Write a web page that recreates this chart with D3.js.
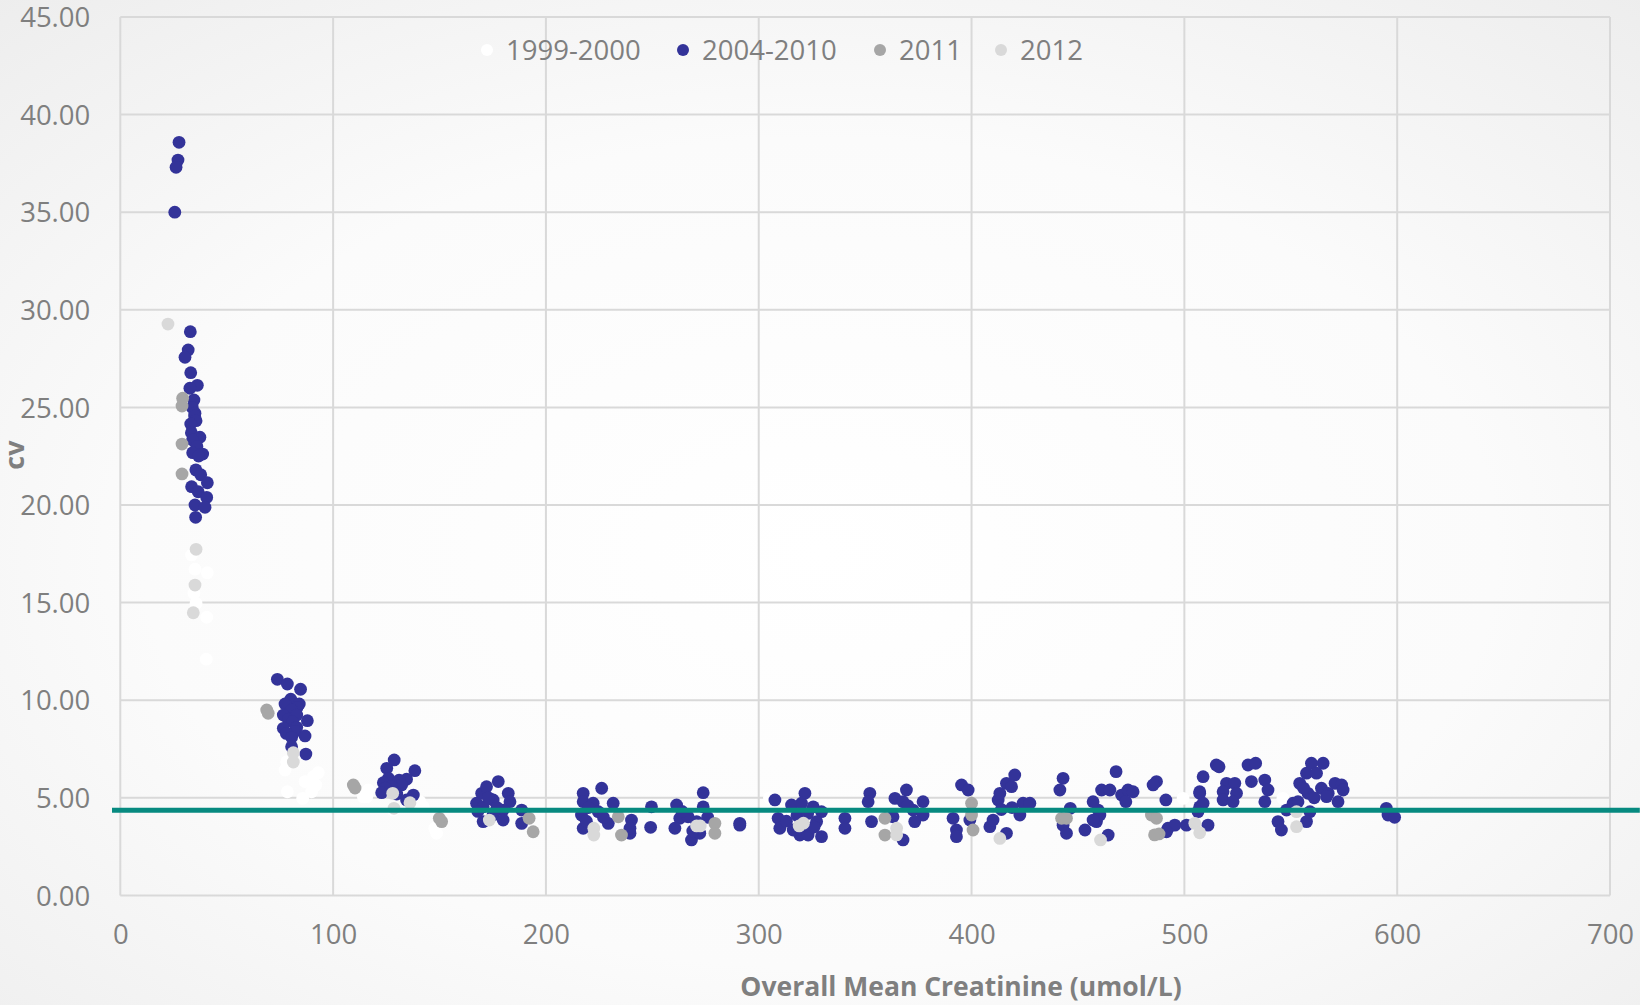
<!DOCTYPE html>
<html>
<head>
<meta charset="utf-8">
<script src="https://cdn.jsdelivr.net/npm/d3@7/dist/d3.min.js"></script>
<style>
  html, body { margin: 0; padding: 0; background: #f2f2f2; }
  svg { display: block; }
  text { font-family: "Open Sans", "Liberation Sans", sans-serif; }
</style>
</head>
<body>
<svg id="chart" width="1640" height="1005"></svg>
<script>
// Creatinine CV by overall mean concentration, grouped by survey period.
// Each point: [overall mean creatinine (umol/L), CV (%)]

const seriesNames = ["1999-2000", "2004-2010", "2011", "2012"];
const seriesColors = ["#ffffff", "#333399", "#a6a6a6", "#d9d9d9"];

const pts1999 = [
  [33.5,17.44],[35.1,16.71],[40.9,16.53],[34.6,15.48],[35.6,14.96],[40.6,14.25],[40.4,12.1],
  [78.2,6.85],[77.4,6.42],[86.8,5.83],[93.0,6.29],[90.7,6.08],[78.5,5.31],[85.7,4.97],
  [89.9,5.31],[91.9,5.66],[116.5,5.40],[115.8,5.06],[147.8,3.44],[142.4,4.54],[128.2,4.37],
  [114.2,5.06],[140.8,4.80],[148.6,3.18],[316.2,4.20],[305.0,5.00],[499.4,4.97],[546.3,4.97]
];

const pts2004 = [
  [27.6,38.58],[27.1,37.67],[26.2,37.30],[25.6,35.00],
  [32.9,28.88],[31.9,27.94],[30.4,27.57],[33.1,26.78],[36.2,26.13],[32.7,25.98],[34.6,25.38],
  [33.8,25.00],[35.1,24.70],[34.9,24.56],[35.6,24.32],[33.1,24.15],[33.4,23.70],[37.4,23.47],
  [34.0,23.33],[36.0,23.00],[34.0,22.68],[38.7,22.61],[36.8,22.51],[35.5,21.80],[37.8,21.55],
  [40.9,21.14],[33.5,20.94],[36.6,20.68],[40.6,20.39],[35.1,20.00],[39.8,19.88],[35.4,19.37],
  [73.8,11.07],[78.5,10.83],[84.7,10.56],[80.1,10.05],[79.5,9.90],[77.4,9.81],[84.1,9.81],
  [83.0,9.60],[80.5,9.50],[76.6,9.24],[82.9,9.24],[79.0,9.00],[87.9,8.95],[81.0,8.90],
  [76.6,8.56],[82.9,8.61],[82.0,8.40],[78.0,8.30],[86.8,8.17],[80.5,8.10],[80.5,7.62],[87.2,7.24],
  [128.7,6.94],[125.2,6.51],[138.4,6.39],[126.0,6.00],[134.5,5.95],[131.0,5.90],[123.6,5.77],
  [132.2,5.66],[127.5,5.57],[124.5,5.50],[122.8,5.26],[129.9,5.19],[137.7,5.14],[134.5,4.89],
  [169.8,5.23],[172.1,5.57],[177.6,5.83],[167.4,4.72],[170.5,4.54],[175.2,4.89],[182.3,5.23],
  [183.1,4.80],[179.9,4.37],[175.2,4.12],[170.5,3.78],[179.9,3.86],[188.6,4.37],[188.6,3.69],
  [173.0,5.00],[177.0,4.50],[168.0,4.30],
  [217.5,5.23],[226.2,5.49],[217.5,4.80],[222.2,4.72],[231.6,4.72],[216.7,4.12],[224.6,4.29],
  [217.5,3.44],[229.3,3.69],[240.2,3.86],[239.5,3.18],[239.5,3.44],[249.6,4.54],[249.2,3.49],
  [220.0,4.50],[227.0,4.00],[219.0,3.80],
  [261.4,4.63],[273.9,5.26],[262.9,3.95],[260.6,3.44],[268.4,2.84],[270.8,3.78],[273.9,4.54],
  [272.3,3.18],[266.8,4.03],[291.1,3.69],[291.1,3.60],[264.0,4.30],[276.0,4.00],[269.0,3.30],
  [307.6,4.89],[309.1,3.95],[309.9,3.44],[315.4,4.63],[321.7,5.23],[320.1,4.72],[325.6,4.54],
  [329.5,4.29],[327.2,3.78],[319.3,3.09],[323.2,3.09],[329.5,3.01],[316.2,3.35],[340.5,3.95],
  [340.5,3.44],[318.0,4.10],[323.0,4.20],[326.0,3.50],[313.0,3.80],[321.0,3.60],
  [352.2,5.23],[351.4,4.80],[353.0,3.78],[364.0,4.97],[369.4,5.40],[367.8,4.80],[372.5,4.37],
  [377.2,4.80],[377.2,4.12],[373.3,3.78],[367.8,2.84],[363.1,4.03],[370.0,4.60],
  [391.3,3.95],[392.9,3.35],[392.9,3.01],[395.3,5.66],[398.4,5.40],[399.2,3.86],[408.6,3.52],
  [416.4,3.18],[410.1,3.86],[412.5,4.89],[413.3,5.23],[416.4,5.74],[420.3,6.17],[418.8,5.57],
  [424.2,4.72],[422.7,4.12],[427.4,4.72],[414.0,4.40],[419.0,4.50],
  [443.0,6.00],[441.5,5.40],[446.4,4.46],[443.0,3.60],[444.6,3.18],[453.3,3.35],[458.7,3.78],
  [459.5,4.37],[457.1,4.80],[461.1,5.40],[465.0,5.40],[464.2,3.09],[467.9,6.34],[470.5,5.14],
  [473.5,5.40],[472.5,4.80],[475.9,5.31],[460.3,4.12],[457.1,3.86],
  [486.9,5.83],[485.3,5.66],[491.3,4.89],[492.3,3.44],[495.5,3.60],[501.0,3.60],[491.6,3.26],
  [507.2,5.23],[508.8,6.08],[515.0,6.68],[507.2,4.54],[508.8,4.72],[506.4,4.29],[511.1,3.60],
  [507.2,5.31],
  [516.3,6.59],[519.8,5.74],[523.7,5.74],[518.2,5.31],[524.5,5.23],[518.2,4.89],[522.9,4.80],
  [529.9,6.68],[533.5,6.77],[531.5,5.83],[537.8,5.91],[539.3,5.40],[537.8,4.80],
  [544.0,3.78],[545.6,3.35],[548.0,4.37],[551.1,4.72],[553.4,4.80],[554.2,5.74],[557.4,6.26],
  [559.7,6.77],[565.2,6.77],[562.1,6.26],[558.1,5.23],[559.0,4.29],[557.4,3.78],[564.4,5.49],
  [567.6,5.23],[570.8,5.74],[573.9,5.66],[574.6,5.40],[572.2,4.80],[566.8,5.06],[556.0,5.50],
  [561.0,5.00],
  [594.9,4.46],[595.7,4.12],[598.8,4.00]
];

const pts2011 = [
  [29.3,25.47],[29.0,25.07],[29.0,23.12],[29.0,21.59],[68.8,9.50],[69.5,9.33],
  [109.5,5.66],[110.3,5.50],[151.0,3.78],[149.9,3.95],[192.1,3.95],[194.0,3.26],
  [234.0,4.03],[235.5,3.09],[279.4,3.69],[279.4,3.18],[359.3,3.95],[359.3,3.09],
  [400.0,4.72],[400.0,4.12],[400.7,3.35],[442.3,3.95],[444.6,3.95],[484.5,4.12],
  [486.9,3.95],[488.1,3.15],[486.0,3.10]
];

const pts2012 = [
  [22.4,29.27],[35.6,17.73],[35.1,15.90],[34.3,14.48],[81.3,7.31],[81.3,6.83],
  [128.0,5.23],[128.6,4.46],[136.1,4.75],[173.4,3.86],[222.5,3.44],[222.5,3.09],
  [270.8,3.56],[272.5,3.56],[319.0,3.56],[321.0,3.70],[364.8,3.44],[364.8,3.10],
  [413.3,2.92],[460.6,2.84],[504.9,3.69],[507.2,3.21],[552.7,4.29],[552.7,3.52]
];

// Horizontal reference line: CV value and the x-extent it is drawn over
const refCV = 4.36;
const refExtent = [-3.9, 714];

const xTicks = [0, 100, 200, 300, 400, 500, 600, 700];
const yTicks = [0, 5, 10, 15, 20, 25, 30, 35, 40, 45];
const xTitle = "Overall Mean Creatinine (umol/L)";
const yTitle = "cv";

const svg = d3.select("#chart");
const W = 1640, H = 1005;
const plot = { left: 120.3, right: 1610, top: 17, bottom: 895.4 };

// Background: soft radial shading
const defs = svg.append("defs");
const grad = defs.append("radialGradient").attr("id", "bg")
  .attr("cx", "50%").attr("cy", "55%").attr("r", "75%");
grad.append("stop").attr("offset", "0%").attr("stop-color", "#ffffff");
grad.append("stop").attr("offset", "55%").attr("stop-color", "#fbfbfb");
grad.append("stop").attr("offset", "100%").attr("stop-color", "#ededed");
svg.append("rect").attr("width", W).attr("height", H).attr("fill", "url(#bg)");

const x = d3.scaleLinear().domain([0, 700]).range([plot.left, plot.right]);
const y = d3.scaleLinear().domain([0, 45]).range([plot.bottom, plot.top]);

const textColor = "#7f7f7f";
const gridColor = "#d9d9d9";

// Gridlines (vertical and horizontal), including plot frame
const grid = svg.append("g");
grid.selectAll("line.v").data(xTicks).join("line")
  .attr("x1", d => x(d)).attr("x2", d => x(d))
  .attr("y1", y(45)).attr("y2", y(0))
  .attr("stroke", gridColor).attr("stroke-width", 2);
grid.selectAll("line.h").data(yTicks).join("line")
  .attr("x1", x(0)).attr("x2", x(700))
  .attr("y1", d => y(d)).attr("y2", d => y(d))
  .attr("stroke", gridColor).attr("stroke-width", 2);

// Axes via d3 axis generators, styled as plain labels
const xAxis = svg.append("g").attr("transform", `translate(0,${y(0)})`)
  .call(d3.axisBottom(x).tickValues(xTicks).tickSize(0).tickPadding(29).tickFormat(d3.format("d")));
const yAxis = svg.append("g").attr("transform", `translate(${x(0)},0)`)
  .call(d3.axisLeft(y).tickValues(yTicks).tickSize(0).tickPadding(30).tickFormat(d3.format(".2f")));
[xAxis, yAxis].forEach(g => {
  g.select(".domain").remove();
  g.selectAll("text").attr("fill", textColor).attr("font-size", 27.5)
    .attr("font-family", "'Open Sans', sans-serif");
});
xAxis.selectAll("text").attr("dy", "0.71em");
yAxis.selectAll("text").attr("dy", "0.35em");

// Axis titles
svg.append("text").attr("x", 961).attr("y", 996)
  .attr("text-anchor", "middle").attr("font-weight", "bold")
  .attr("font-size", 26.5).attr("fill", textColor).text(xTitle);
svg.append("text")
  .attr("transform", "translate(24,455) rotate(-90)")
  .attr("text-anchor", "middle").attr("font-weight", "bold")
  .attr("font-size", 27).attr("fill", textColor).text(yTitle);

// Points, drawn series by series (later series on top)
const allSeries = [pts1999, pts2004, pts2011, pts2012];
const marks = svg.append("g");
allSeries.forEach((pts, i) => {
  marks.append("g").selectAll("circle").data(pts).join("circle")
    .attr("cx", d => x(d[0])).attr("cy", d => y(d[1]))
    .attr("r", 6.4).attr("fill", seriesColors[i]);
});

// Reference line
svg.append("line")
  .attr("x1", x(refExtent[0])).attr("x2", x(refExtent[1]))
  .attr("y1", y(refCV)).attr("y2", y(refCV))
  .attr("stroke", "#078a80").attr("stroke-width", 5);

// Legend
const legendX = [487, 683, 880, 1001];
const legend = svg.append("g");
seriesNames.forEach((name, i) => {
  legend.append("circle").attr("cx", legendX[i]).attr("cy", 50).attr("r", 6)
    .attr("fill", seriesColors[i]);
  legend.append("text").attr("x", legendX[i] + 19).attr("y", 50).attr("dy", "0.35em")
    .attr("font-size", 27.5).attr("fill", textColor).text(name);
});
</script>
</body>
</html>
